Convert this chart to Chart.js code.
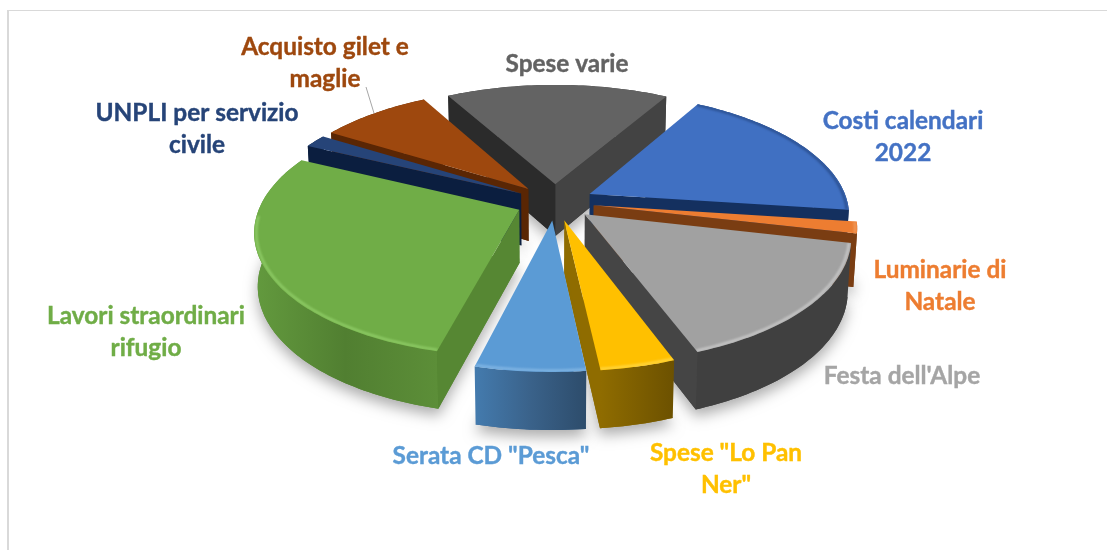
<!DOCTYPE html>
<html>
<head>
<meta charset="utf-8">
<script src="https://cdn.jsdelivr.net/npm/chart.js@4"></script>
<style>
html,body{margin:0;padding:0;background:#fff;overflow:hidden}
#frame{position:absolute;left:7px;top:10px;right:0;bottom:0;border-left:2px solid #d9d9d9;border-top:1px solid #d9d9d9}
canvas{position:absolute;left:0;top:0}
</style>
</head>
<body>
<div id="frame"></div>
<canvas id="torta" width="1107" height="550"></canvas>
<script>
// labels, one entry per line of text
let categories=[['Costi calendari','2022'],['Luminarie di','Natale'],["Festa dell'Alpe"],['Spese "Lo Pan','Ner"'],['Serata CD "Pesca"'],['Lavori straordinari','rifugio'],['UNPLI per servizio','civile'],['Acquisto gilet e','maglie'],['Spese varie']]
// percent of total
let values=[18.8,1.5,15.8,3.9,5.7,28.2,1.7,8.2,16.4]

let topColors=['#4070c2','#ED7D31','#A1A1A1','#FFC000','#5B9BD5','#70AD47','#264478','#9E480E','#636363']
let textColors=['#4472C4','#ED7D31','#A5A5A5','#FFC000','#5B9BD5','#70AD47','#264478','#9E480E','#636363']
let rimColors=[['#14305f'],['#7a3d12'],['#404040'],['#8f6c00','#6c5100'],['#447bae','#3a628a','#2d4c6b'],['#639a3e','#517f31','#5c8e38'],['#0b1e3f'],['#5a2604'],['#434343']]
let wallColors=[['#14305f','#14305f'],['#7a3d12','#7a3d12'],['#454545','#454545'],['#8f6c00','#8f6c00'],['#3c6690','#3c6690'],['#568733','#568733'],['#0b1e3f','#0b1e3f'],['#5a2604','#5a2604'],['#2b2b2b','#434343']]
let bevelColors=['#2a4f8f','#f09a5c','#c8c8c8','#ffd640','#82b6e4','#8ecb66',null,null,null]
let labelPlaces=[[903,121],[940,270],[902,376],[726,453],[491,456],[146,316],[197,113],[325,47],[567,64]]

const RADIUS=258
const EXPLODE=39
const DEPTH=52.5
const TILT=0.467
const PERSP=0.16
const LINE_H=32

function project(arc,dx,dy,h){
    let f=1/(1-PERSP*dy/RADIUS)
    return {
        x:arc.x+dx*f*(1-0.012*h/DEPTH),
        y:arc.y+dy*TILT*f+h*Math.sqrt(f)
    }
}

function polygon(ctx,pts){
    ctx.beginPath()
    pts.forEach((p,i)=>{ if(i==0) ctx.moveTo(p.x,p.y); else ctx.lineTo(p.x,p.y) })
    ctx.closePath()
}

function drawSlice(ctx,arc,i){
    let mid=(arc.startAngle+arc.endAngle)/2
    let ox=Math.cos(mid)*EXPLODE, oy=Math.sin(mid)*EXPLODE
    let steps=Math.ceil((arc.endAngle-arc.startAngle)/0.02)
    let rimTop=[],rimBot=[],bevel=[]
    // blue is the only back slice with an edge line, the others only at the front
    let bevelFrom=i==0?-1.1:0.05
    for(let s=0;s<=steps;s++){
        let a=arc.startAngle+(arc.endAngle-arc.startAngle)*s/steps
        let dx=ox+Math.cos(a)*arc.outerRadius, dy=oy+Math.sin(a)*arc.outerRadius
        rimTop.push(project(arc,dx,dy,0))
        rimBot.push(project(arc,dx,dy,DEPTH))
        if(Math.sin(a)>bevelFrom) bevel.push(project(arc,ox+Math.cos(a)*(arc.outerRadius-2),oy+Math.sin(a)*(arc.outerRadius-2),0))
    }
    let apexTop=project(arc,ox,oy,0), apexBot=project(arc,ox,oy,DEPTH)

    // soft shadow under the slice
    ctx.save()
    ctx.shadowColor='rgba(0,0,0,0.32)'
    ctx.shadowBlur=14
    ctx.shadowOffsetY=7
    ctx.fillStyle=wallColors[i][0]
    polygon(ctx,[apexBot].concat(rimBot))
    ctx.fill()
    ctx.restore()

    // outer side
    let xs=rimTop.map(p=>p.x)
    let grad=ctx.createLinearGradient(Math.min(...xs),0,Math.max(...xs),0)
    let cols=rimColors[i]
    cols.forEach((c,k)=>grad.addColorStop(cols.length>1?k/(cols.length-1):0,c))
    ctx.fillStyle=grad
    polygon(ctx,rimTop.concat(rimBot.slice().reverse()))
    ctx.fill()

    // cut walls, only the ones turned to the viewer
    let first=rimTop[0], last=rimTop[rimTop.length-1]
    if(first.x<apexTop.x){
        ctx.fillStyle=wallColors[i][0]
        polygon(ctx,[apexTop,first,rimBot[0],apexBot])
        ctx.fill()
    }
    if(apexTop.x<last.x){
        ctx.fillStyle=wallColors[i][1]
        polygon(ctx,[apexTop,last,rimBot[rimBot.length-1],apexBot])
        ctx.fill()
    }

    // top face
    ctx.fillStyle=topColors[i]
    polygon(ctx,[apexTop].concat(rimTop))
    ctx.fill()

    // bevel on the rim
    if(bevelColors[i] && bevel.length>1){
        ctx.save()
        polygon(ctx,[apexTop].concat(rimTop))
        ctx.clip()
        ctx.filter='blur(1px)'
        ctx.strokeStyle=bevelColors[i]
        ctx.lineWidth=2.5
        ctx.beginPath()
        bevel.forEach((p,k)=>{ if(k==0) ctx.moveTo(p.x,p.y); else ctx.lineTo(p.x,p.y) })
        ctx.stroke()
        ctx.restore()
    }
}

let pie3d={
    id:'pie3d',
    beforeDatasetsDraw(chart){
        let ctx=chart.ctx
        let arcs=chart.getDatasetMeta(0).data
        let order=arcs.map((a,i)=>i)
        order.sort((p,q)=>Math.sin((arcs[p].startAngle+arcs[p].endAngle)/2)-Math.sin((arcs[q].startAngle+arcs[q].endAngle)/2))
        ctx.save()
        order.forEach(i=>drawSlice(ctx,arcs[i],i))
        ctx.restore()

        // leader line for the brown slice
        let b=arcs[7], m=(b.startAngle+b.endAngle)/2
        let end=project(b,Math.cos(m)*(EXPLODE+b.outerRadius),Math.sin(m)*(EXPLODE+b.outerRadius),0)
        ctx.save()
        ctx.strokeStyle='#a6a6a6'
        ctx.lineWidth=1
        ctx.beginPath()
        ctx.moveTo(366,87)
        ctx.lineTo(end.x,end.y)
        ctx.stroke()

        ctx.font='bold 24.4px Lato'
        ctx.textAlign='center'
        ctx.textBaseline='middle'
        ctx.lineWidth=0.4
        categories.forEach((lines,i)=>{
            ctx.fillStyle=textColors[i]
            ctx.strokeStyle=textColors[i]
            lines.forEach((t,k)=>{
                ctx.fillText(t,labelPlaces[i][0],labelPlaces[i][1]+k*LINE_H)
                ctx.strokeText(t,labelPlaces[i][0],labelPlaces[i][1]+k*LINE_H)
            })
        })
        ctx.restore()
        return false
    }
}

new Chart(document.getElementById('torta').getContext('2d'),{
    type:'pie',
    data:{
        labels:categories,
        datasets:[{data:values,backgroundColor:topColors,borderWidth:0}]
    },
    options:{
        responsive:false,
        animation:false,
        rotation:30,
        radius:RADIUS,
        layout:{padding:{left:3,bottom:146}},
        plugins:{legend:{display:false},tooltip:{enabled:false}}
    },
    plugins:[pie3d]
})
</script>
</body>
</html>
